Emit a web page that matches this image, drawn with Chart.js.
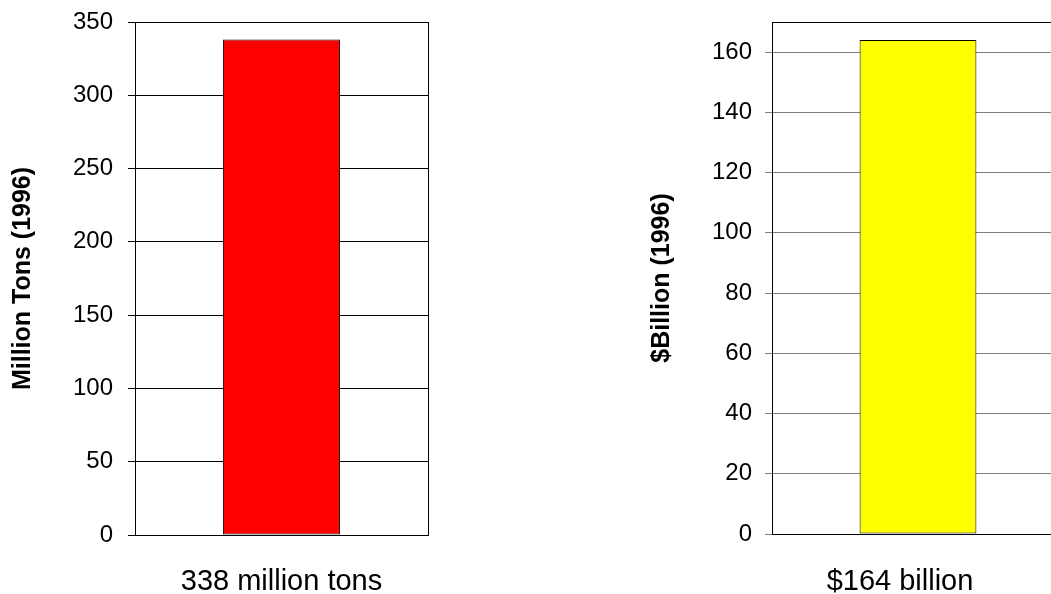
<!DOCTYPE html>
<html>
<head>
<meta charset="utf-8">
<script src="https://cdn.jsdelivr.net/npm/chart.js@4.4.0/dist/chart.umd.min.js"></script>
<style>
  html, body { margin: 0; padding: 0; background: #fff; }
  body { width: 1051px; height: 594px; overflow: hidden; position: relative; }
  canvas { position: absolute; top: 0; }
  #tons { left: 0; }
  #dollars { left: 630px; }
</style>
</head>
<body>
<canvas id="tons" width="560" height="598"></canvas>
<canvas id="dollars" width="540" height="598"></canvas>
<script>
// data
var tonsLabels = ['338 million tons'];
var tonsValues = [338];
var dollarLabels = ['$164 billion'];
var dollarValues = [164];
var tonsAxis = { min: 0, max: 350, step: 50, title: 'Million Tons (1996)' };
var dollarAxis = { min: 0, max: 170, step: 20, title: '$Billion (1996)' };

Chart.defaults.font.family = '"Liberation Sans", Arial, sans-serif';
Chart.defaults.color = '#000';
Chart.defaults.animation = false;

// black box round the plot area
var frame = {
    id: 'frame',
    afterDatasetsDraw: function (chart) {
        var a = chart.chartArea, ctx = chart.ctx;
        ctx.save();
        ctx.strokeStyle = '#000';
        ctx.lineWidth = 1;
        ctx.strokeRect(Math.round(a.left) + 0.5, Math.round(a.top) + 0.5,
            Math.round(a.right - a.left), Math.round(a.bottom - a.top));
        ctx.restore();
    }
};

new Chart(document.getElementById('tons').getContext('2d'), {
    type: 'bar',
    data: {
        labels: tonsLabels,
        datasets: [{
            data: tonsValues,
            backgroundColor: '#ff0000',
            borderColor: '#000',
            borderWidth: 1,
            borderSkipped: false,
            barPercentage: 0.4,
            categoryPercentage: 1
        }]
    },
    options: {
        responsive: false,
        layout: { padding: { top: 22, right: 132, left: 0, bottom: 0 } },
        plugins: { legend: { display: false }, tooltip: { enabled: false } },
        scales: {
            x: {
                grid: { display: false },
                border: { display: false },
                ticks: { display: false },
                title: {
                    display: true,
                    text: tonsLabels[0],
                    font: { size: 29, lineHeight: 1 },
                    padding: { top: 0, bottom: 2 }
                },
                afterFit: function (s) { s.height = 63; }
            },
            y: {
                min: tonsAxis.min,
                max: tonsAxis.max,
                ticks: { stepSize: tonsAxis.step, padding: 15, font: { size: 24 } },
                grid: { color: '#000', tickLength: 7 },
                border: { display: false },
                title: {
                    display: true,
                    text: tonsAxis.title,
                    font: { size: 25, weight: 'bold' },
                    padding: { top: 8, bottom: 0 }
                },
                afterFit: function (s) {
                    s.width = 135;
                    s.paddingTop = 0;
                    s.paddingBottom = 0;
                }
            }
        }
    },
    plugins: [frame]
});

new Chart(document.getElementById('dollars').getContext('2d'), {
    type: 'bar',
    data: {
        labels: dollarLabels,
        datasets: [{
            data: dollarValues,
            backgroundColor: '#ffff00',
            borderColor: '#000',
            borderWidth: 1,
            borderSkipped: false,
            barPercentage: 0.4,
            categoryPercentage: 1
        }]
    },
    options: {
        responsive: false,
        layout: { padding: { top: 22, right: 0, left: 0, bottom: 0 } },
        plugins: {
            legend: { display: false },
            tooltip: { enabled: false },
            title: {
                display: true,
                position: 'bottom',
                text: dollarLabels[0],
                color: '#000',
                font: { size: 29, weight: 'normal', lineHeight: 1 },
                padding: { top: 0, bottom: 2 }
            }
        },
        scales: {
            x: {
                grid: { display: false },
                border: { display: false },
                ticks: { display: false },
                afterFit: function (s) { s.height = 33; }
            },
            y: {
                min: dollarAxis.min,
                max: dollarAxis.max,
                ticks: { stepSize: dollarAxis.step, includeBounds: false, padding: 13, font: { size: 24 } },
                grid: { color: '#808080', tickLength: 7 },
                border: { display: false },
                title: {
                    display: true,
                    text: dollarAxis.title,
                    font: { size: 25, weight: 'bold' },
                    padding: { top: 17, bottom: 0 }
                },
                afterFit: function (s) {
                    s.width = 142;
                    s.paddingTop = 0;
                    s.paddingBottom = 0;
                }
            },
            // empty right axis, only holds space so the plot runs past the edge
            y2: {
                type: 'linear',
                position: 'right',
                grid: { display: false },
                border: { display: false },
                ticks: { display: false },
                afterFit: function (s) {
                    s.width = 106;
                    s.paddingTop = 0;
                    s.paddingBottom = 0;
                }
            }
        }
    },
    plugins: [frame]
});
</script>
</body>
</html>
